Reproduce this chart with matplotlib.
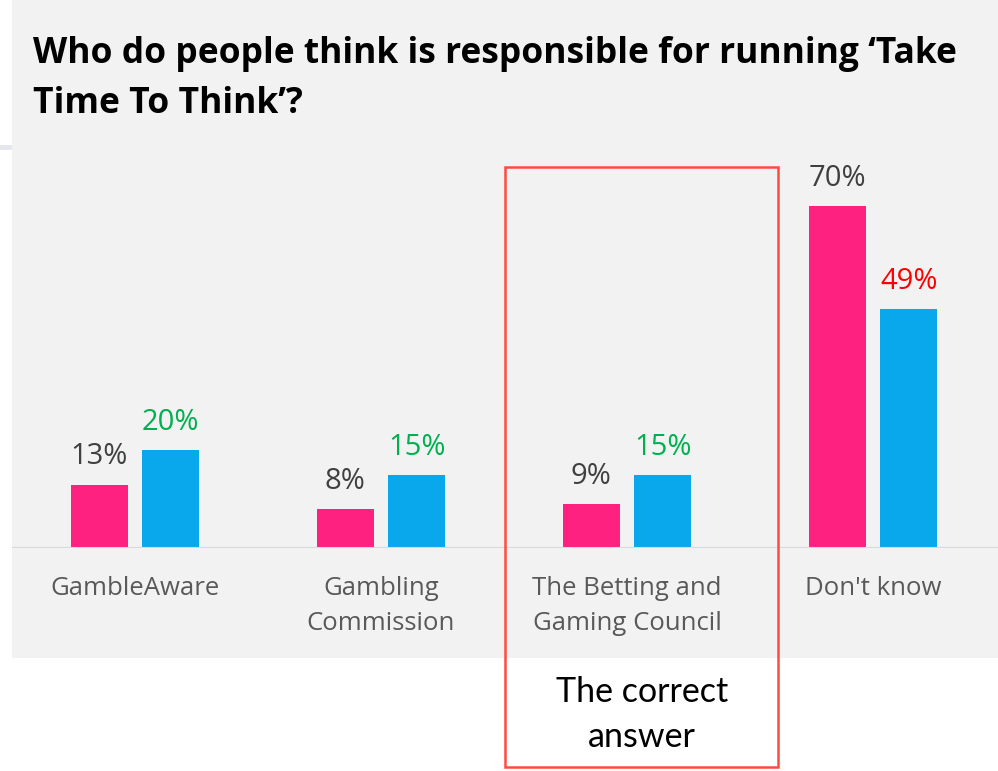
import matplotlib.pyplot as plt
import matplotlib.patches as patches
import numpy as np

categories = ['GambleAware', 'Gambling\nCommission', 'The Betting and\nGaming Council', "Don't know"]
pink_values = [13, 8, 9, 70]
blue_values = [20, 15, 15, 49]
pink_label_colors = ['#404040', '#404040', '#404040', '#404040']
blue_label_colors = ['#00B050', '#00B050', '#00B050', '#FF0000']

W, H = 998, 771
PINK = '#FF2180'
BLUE = '#09A7EC'
PANEL = '#F2F2F2'


def fx(px):
    return px / W


def fy(py):
    return 1 - py / H


fig = plt.figure(figsize=(W / 100, H / 100), dpi=100)
fig.patch.set_facecolor('white')

# grey slide panel + small left stub
fig.add_artist(patches.Rectangle((fx(12), fy(658)), fx(998) - fx(12), fy(0) - fy(658),
                                 transform=fig.transFigure, facecolor=PANEL, edgecolor='none', zorder=0))
fig.add_artist(patches.Rectangle((0, fy(150)), fx(12), fy(145) - fy(150),
                                 transform=fig.transFigure, facecolor='#E6E6EE', edgecolor='none', zorder=0))

ax = fig.add_axes([fx(12), fy(548), fx(998) - fx(12), fy(150) - fy(548)])
ax.set_facecolor('none')

x = np.arange(len(categories))
w = 0.232
off = 0.145
ax.bar(x - off, pink_values, w, color=PINK, zorder=2)
ax.bar(x + off, blue_values, w, color=BLUE, zorder=2)

for i in range(len(categories)):
    ax.annotate(f'{pink_values[i]}%', (x[i] - off, pink_values[i]), xytext=(0, 14.5),
                textcoords='offset points', ha='center', va='baseline',
                fontsize=21, family='Open Sans', color=pink_label_colors[i])
    ax.annotate(f'{blue_values[i]}%', (x[i] + off, blue_values[i]), xytext=(0, 14.5),
                textcoords='offset points', ha='center', va='baseline',
                fontsize=21, family='Open Sans', color=blue_label_colors[i])

ax.set_xlim(-0.5, 3.508)
ax.set_ylim(0, 81.5)
ax.axhline(0, color='#D9D9D9', lw=1.5, zorder=3)
for s in ax.spines.values():
    s.set_visible(False)
ax.set_yticks([])
ax.set_xticks(x)
ax.set_xticklabels(categories, fontsize=18.5, family='Open Sans', color='#595959', linespacing=1.55)
ax.tick_params(axis='x', length=0, pad=20)

# title
fig.text(fx(33), fy(63), 'Who do people think is responsible for running \u2018Take',
         fontsize=25.5, fontweight='bold', family='Open Sans', color='black', va='baseline')
fig.text(fx(33), fy(113), 'Time To Think\u2019?',
         fontsize=25.5, fontweight='bold', family='Open Sans', color='black', va='baseline')

# highlight box
fig.add_artist(patches.Rectangle((fx(505), fy(767)), fx(778) - fx(505), fy(167) - fy(767),
                                 transform=fig.transFigure, facecolor='none',
                                 edgecolor='#FF4A3D', lw=1.8, zorder=5))
fig.text(fx(642), fy(702), 'The correct', fontsize=24.5, family='Lato', color='black',
         ha='center', va='baseline')
fig.text(fx(642), fy(747), 'answer', fontsize=24.5, family='Lato', color='black',
         ha='center', va='baseline')

fig.savefig('out.png', dpi=100)
